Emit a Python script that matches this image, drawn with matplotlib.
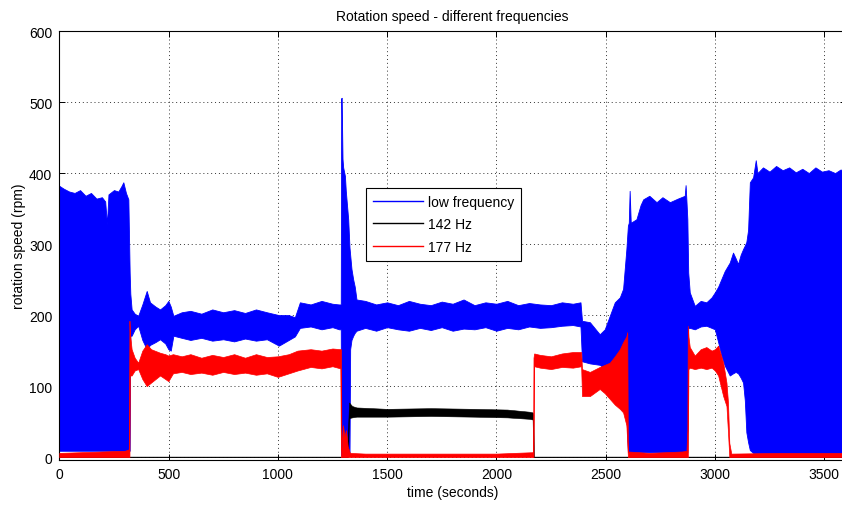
import matplotlib
matplotlib.use("Agg")
import matplotlib.pyplot as plt
from matplotlib.lines import Line2D

plt.rcParams['font.family'] = ['Liberation Sans', 'DejaVu Sans']

# envelopes: time (s), lower / upper rotation speed (rpm)
low_t = [0, 20, 45, 70, 95, 120, 145, 170, 195, 210, 218, 225, 250, 270, 285, 293, 305, 316, 322,
         325, 331, 345, 361, 380, 400, 415, 440, 461, 485, 499, 510, 522, 560, 600, 650, 700, 750,
         800, 850, 900, 950, 1005, 1050, 1078, 1101, 1150, 1200, 1250, 1280, 1288,
         1290, 1292, 1296, 1299, 1307, 1311, 1322, 1328, 1331, 1337, 1345, 1352, 1360,
         1400, 1450, 1500, 1550, 1600, 1650, 1700, 1750, 1800, 1850, 1900, 1950, 2000, 2050, 2100,
         2150, 2200, 2250, 2300, 2350, 2385, 2392, 2428, 2473, 2496, 2519, 2542, 2565, 2580, 2595,
         2602, 2606, 2610, 2615, 2641, 2660, 2672, 2700, 2733, 2760, 2794, 2830, 2862, 2866, 2870,
         2874, 2878, 2885, 2908, 2935, 2961, 2985, 3000, 3015, 3030, 3045, 3068, 3083, 3095, 3106,
         3118, 3129, 3137, 3144, 3152, 3160, 3175, 3187, 3195, 3220, 3250, 3280, 3310, 3340, 3370,
         3400, 3430, 3460, 3490, 3520, 3550, 3575, 3600]
low_lo = [9, 9, 9, 9, 9, 9, 9, 9, 9, 9, 9, 9, 9, 9, 9, 9, 9, 9, 9,
          171, 171, 180, 185, 165, 152, 158, 162, 166, 160, 152, 150, 171, 168, 165, 168, 164, 166,
          163, 167, 164, 166, 157, 165, 170, 182, 184, 180, 183, 180, 180,
          3, 3, 3, 3, 3, 3, 3, 3, 152, 165, 171, 175, 178,
          182, 178, 183, 180, 178, 182, 179, 183, 178, 181, 180, 183, 178, 182, 180,
          184, 182, 183, 185, 186, 184, 135, 132, 130, 125, 120, 110, 100, 90, 60,
          7, 7, 7, 7, 7, 7, 7, 7, 7, 7, 7, 7, 7, 7, 7,
          7, 182, 182, 180, 184, 185, 182, 180, 162, 143, 129, 115, 118, 120, 118,
          112, 105, 80, 35, 21, 10, 6, 6, 6, 6, 6, 6, 6, 6, 6,
          6, 6, 6, 6, 6, 6, 6, 6]
low_hi = [382, 378, 374, 372, 376, 368, 372, 364, 366, 360, 328, 370, 376, 374, 382, 387, 372, 363, 260,
          230, 208, 202, 199, 215, 234, 218, 212, 208, 214, 220, 212, 199, 204, 206, 202, 208, 204,
          207, 203, 208, 204, 200, 200, 197, 218, 215, 220, 216, 215, 215,
          505, 506, 420, 408, 396, 375, 335, 295, 285, 265, 250, 240, 222,
          220, 215, 218, 214, 220, 216, 214, 219, 216, 222, 214, 218, 216, 220, 214,
          217, 215, 214, 218, 216, 218, 192, 190, 173, 180, 199, 218, 225, 237, 293,
          326, 330, 375, 330, 335, 355, 363, 368, 359, 366, 359, 364, 368, 383, 360,
          335, 260, 232, 213, 220, 218, 225, 232, 240, 251, 262, 274, 288, 280, 272,
          285, 293, 298, 303, 320, 387, 394, 418, 400, 408, 402, 410, 404, 408, 401,
          406, 400, 408, 402, 404, 400, 405, 402]

hz142_t = [0, 1318, 1320, 1326, 1340, 1360, 1500, 1700, 1900, 2050, 2150, 2166, 2169, 2172, 3600]
hz142_lo = [0, 0, 0, 55, 56, 57, 57, 58, 57, 56, 54, 53, 0, 0, 0]
hz142_hi = [0.8, 0.8, 30, 77, 72, 70, 68, 69, 68, 67, 64, 63, 60, 0.8, 0.8]

hz177_t = [0, 100, 200, 300, 318, 321, 323, 331, 345, 361, 380, 400, 420, 461, 485, 499, 520, 560,
           600, 650, 700, 750, 800, 850, 900, 950, 1000, 1050, 1090, 1150, 1200, 1250, 1286, 1289,
           1291, 1298, 1305, 1312, 1320, 1330, 1400, 2000, 2168, 2170, 2173, 2200, 2250, 2300, 2350,
           2388, 2392, 2428, 2473, 2496, 2519, 2542, 2565, 2580, 2595, 2599, 2602, 2700, 2850, 2870,
           2874, 2876, 2879, 2885, 2908, 2935, 2961, 2985, 3000, 3015, 3038, 3053, 3060, 3066, 3075,
           3300, 3600]
hz177_lo = [0, 0, 0, 0, 0, 0, 115, 115, 122, 124, 110, 100, 105, 115, 110, 107, 118, 120,
            117, 119, 116, 120, 117, 119, 116, 118, 113, 118, 122, 127, 125, 128, 125, 0,
            0, 0, 0, 0, 0, 0, 0, 0, 0, 0, 128, 126, 124, 127, 126,
            128, 86, 86, 96, 90, 82, 74, 68, 63, 45, 20, 0, 0, 0, 0,
            0, 0, 124, 126, 124, 126, 124, 126, 122, 115, 86, 72, 35, 0, 0,
            0, 0]
hz177_hi = [6, 7, 8, 9, 11, 192, 175, 152, 140, 133, 150, 159, 152, 147, 145, 143, 145, 142,
            145, 140, 144, 141, 145, 140, 145, 141, 142, 145, 150, 152, 150, 153, 152, 152,
            10, 45, 30, 38, 15, 6, 5, 5, 7, 140, 146, 144, 142, 146, 148,
            148, 124, 120, 127, 130, 133, 142, 152, 162, 170, 176, 8, 6, 8, 9,
            40, 185, 170, 155, 143, 152, 155, 150, 152, 157, 133, 105, 77, 20, 5,
            6, 6]

series = [
    ("low frequency", low_t, low_lo, low_hi, "#0000ff", 0.6),
    ("142 Hz", hz142_t, hz142_lo, hz142_hi, "#000000", 0.4),
    ("177 Hz", hz177_t, hz177_lo, hz177_hi, "#ff0000", 0.5),
]


def main():
    fig = plt.figure(figsize=(8.42, 5.06), dpi=100)
    ax = fig.add_axes([59.3 / 842, 45 / 506, (846 - 59.3) / 842, 429 / 506])

    handles = []
    for i, (name, t, lo, hi, col, lw) in enumerate(series):
        ax.fill_between(t, lo, hi, color=col, lw=lw, zorder=2 + i)
        handles.append(Line2D([], [], color=col, lw=1.0, label=name))

    ax.set_xlim(0, 3600)
    ax.set_ylim(-4, 600)
    ax.set_xticks(range(0, 3600, 500))
    ax.set_yticks(range(0, 601, 100))
    ax.grid(True, color="#333333", linestyle=(0, (1, 3)), lw=0.7, zorder=1)
    ax.set_axisbelow(True)
    ax.tick_params(direction="in", length=4.3, width=0.7, top=True, right=True,
                   labelsize=10, pad=5)
    for s in ax.spines.values():
        s.set_linewidth(0.8)

    ax.set_title("Rotation speed - different frequencies", fontsize=10, pad=8)
    ax.set_xlabel("time (seconds)", fontsize=10, labelpad=3)
    ax.set_ylabel("rotation speed (rpm)", fontsize=10, labelpad=2)

    leg = ax.legend(handles=handles, loc="upper left", bbox_to_anchor=(0.390, 0.634),
                    borderaxespad=0, fontsize=10, handlelength=3.6, handletextpad=0.35,
                    labelspacing=0.6, borderpad=0.5, fancybox=False, framealpha=1,
                    edgecolor="black")
    leg.get_frame().set_linewidth(0.8)
    leg.set_zorder(10)

    fig.savefig("out.png", dpi=100)
    plt.close(fig)


if __name__ == '__main__':
    main()
